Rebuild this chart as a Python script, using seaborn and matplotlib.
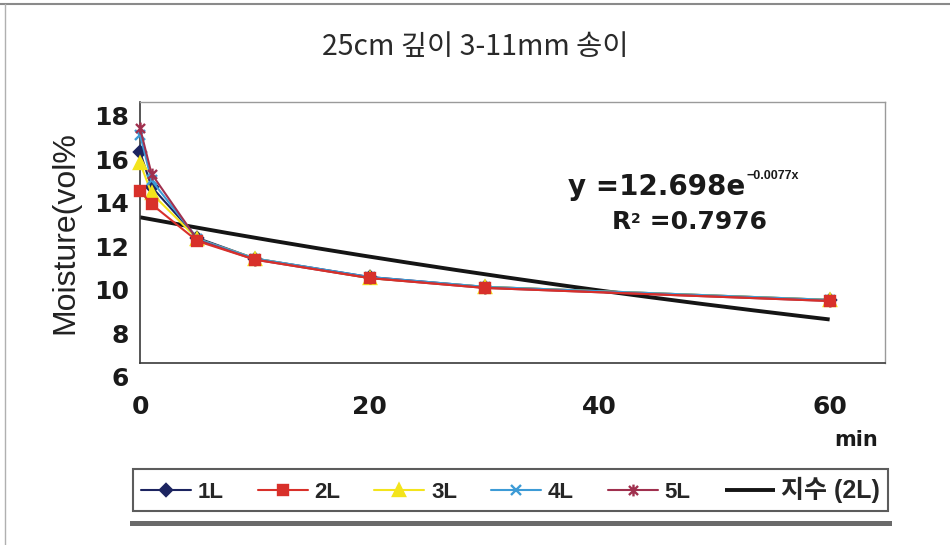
import numpy as np
import pandas as pd
import matplotlib
matplotlib.use("Agg")
import matplotlib.pyplot as plt
import matplotlib.transforms as mtransforms
from matplotlib.path import Path
from matplotlib.font_manager import FontProperties
import seaborn as sns

# Measured soil moisture (vol%) after irrigation, by elapsed minutes
minutes = [0, 1, 5, 10, 20, 30, 60]
moisture_1L = [15.7, 14.1, 11.75, 10.8, 9.95, 9.5, 8.9]
moisture_2L = [13.9, 13.3, 11.6, 10.75, 9.9, 9.45, 8.85]
moisture_3L = [15.2, 13.8, 11.7, 10.8, 9.9, 9.5, 8.9]
moisture_4L = [16.5, 14.4, 11.7, 10.8, 9.95, 9.5, 8.9]
moisture_5L = [16.8, 14.7, 11.65, 10.75, 9.9, 9.45, 8.85]
series_names = ["1L", "2L", "3L", "4L", "5L"]

# Exponential trend fitted to 2L
trend_coef = 12.698
trend_rate = -0.0077
trend_r2 = 0.7976
trend_label = "지수 (2L)"

y_ticks = [6, 8, 10, 12, 14, 16, 18]
x_ticks = [0, 20, 40, 60]

title_text = "25cm 깊이 3-11mm 송이"
y_label = "Moisture(vol%"
x_label = "min"

sns.set_style("white")
plt.rcParams["font.family"] = ["Liberation Sans", "Noto Sans CJK KR"]

frame = pd.DataFrame({
    "min": minutes * 5,
    "moisture": moisture_1L + moisture_2L + moisture_3L + moisture_4L + moisture_5L,
    "series": [n for n in series_names for _ in minutes],
})

# Excel-style asterisk: an x with a vertical stroke
asterisk = Path(
    [(-1, -1), (1, 1), (-1, 1), (1, -1), (0, -1.3), (0, 1.3)],
    [Path.MOVETO, Path.LINETO, Path.MOVETO, Path.LINETO, Path.MOVETO, Path.LINETO],
)

styles = {
    "1L": dict(color="#1c2460", marker="D", ms=6, mfc="#1c2460", z=3),
    "2L": dict(color="#d8302a", marker="s", ms=7.5, mfc="#d8302a", z=7),
    "3L": dict(color="#f3e41c", marker="^", ms=8, mfc="#f3e41c", z=4),
    "4L": dict(color="#3d9bd6", marker="x", ms=7.5, mfc="none", z=5),
    "5L": dict(color="#a0304e", marker=asterisk, ms=8.5, mfc="none", z=6),
}

fig = plt.figure(figsize=(9.5, 5.45), dpi=100)
ax = fig.add_axes([0.1474, 0.334, 0.784, 0.4789])

# Trend curve from the fitted equation
x_fit = np.linspace(0, 60, 200)
ax.plot(x_fit, trend_coef * np.exp(trend_rate * x_fit), color="#151515",
        lw=2.8, label=trend_label, zorder=2, solid_capstyle="butt")

for name in series_names:
    st = styles[name]
    sub = frame[frame["series"] == name]
    sns.lineplot(data=sub, x="min", y="moisture", ax=ax, color=st["color"],
                 marker=st["marker"], markersize=st["ms"],
                 markerfacecolor=st["mfc"], markeredgecolor=st["color"],
                 markeredgewidth=1.7, lw=1.5, label=name, zorder=st["z"],
                 clip_on=False)

if ax.get_legend() is not None:
    ax.get_legend().remove()

bold_wide = FontProperties(family="DejaVu Sans", weight="bold", size=18)

ax.set_xlim(0, 64.8)
ax.set_ylim(6, 18)
ax.set_xticks(x_ticks)
ax.set_yticks(y_ticks)
ax.set_xticklabels([str(t) for t in x_ticks])
ax.set_yticklabels([str(t) for t in y_ticks])
ax.tick_params(axis="both", direction="in", length=6, width=1, color="#333333")
ax.tick_params(axis="x", pad=23)
ax.tick_params(axis="y", pad=8)
for lab in ax.get_xticklabels() + ax.get_yticklabels():
    lab.set_fontproperties(bold_wide)
    lab.set_color("#1a1a1a")

for side in ["left", "bottom"]:
    ax.spines[side].set_color("#3a3a3a")
    ax.spines[side].set_linewidth(1.2)
for side in ["top", "right"]:
    ax.spines[side].set_color("#9a9a9a")
    ax.spines[side].set_linewidth(1.0)

ax.set_xlabel("")
ax.set_ylabel("")
ax.text(0.962, -0.295, x_label, transform=ax.transAxes, ha="center", va="center",
        fontsize=15, fontweight="bold", family="DejaVu Sans", color="#1a1a1a")
fig.text(0.069, 0.574, y_label, rotation=90, ha="center", va="center",
         fontsize=23, color="#222222", family="Liberation Sans")
fig.text(0.5, 0.913, title_text, ha="center", va="center", fontsize=20.5,
         color="#2a2a2a", family=["Noto Sans CJK KR", "DejaVu Sans"])

# Trend equation with small superscripts
eq_main = ax.text(0.5745, 0.675, f"y ={trend_coef:.3f}e", transform=ax.transAxes,
                  ha="left", va="center", fontsize=20, fontweight="bold",
                  family="DejaVu Sans", color="#1a1a1a")
ax.annotate(f"\u2212{abs(trend_rate):.4f}x", xy=(1, 1), xycoords=eq_main,
            xytext=(1, -2), textcoords="offset points", ha="left", va="center",
            fontsize=9, fontweight="bold", family="Liberation Sans",
            color="#1a1a1a")

r_main = ax.text(0.6336, 0.54, "R", transform=ax.transAxes, ha="left", va="center",
                 fontproperties=bold_wide, color="#1a1a1a")
r_sup = ax.annotate("2", xy=(1, 0.92), xycoords=r_main, xytext=(0, 0),
                    textcoords="offset points", ha="left", va="top",
                    fontsize=10, fontweight="bold", family="DejaVu Sans",
                    color="#1a1a1a")
ax.annotate(f" ={trend_r2:.4f}", xy=(1, 0), xycoords=(r_sup, r_main),
            ha="left", va="bottom", fontproperties=bold_wide, color="#1a1a1a")

handles, labels = ax.get_legend_handles_labels()
order = series_names + [trend_label]
hmap = dict(zip(labels, handles))
leg_prop = FontProperties(family=["Liberation Sans", "Noto Sans CJK KR"],
                          weight="bold", size=16)
leg = fig.legend([hmap[k] for k in order], order, loc="center",
                 bbox_to_anchor=(133 / 950, 1 - 512 / 545, 755 / 950, 44 / 545),
                 mode="expand", ncol=6, frameon=True,
                 fancybox=False, edgecolor="#333333", prop=leg_prop,
                 handlelength=2.25, columnspacing=1.0, handletextpad=0.3,
                 borderpad=0.35, borderaxespad=0)
leg.get_frame().set_linewidth(1.5)
leg.get_texts()[-1].set_fontsize(18)

# Shaded rule beneath the legend and the outer chart frame
fig.add_artist(plt.Rectangle((130 / 950, 1 - 526 / 545), 762 / 950, 5 / 545,
                             transform=fig.transFigure, color="#6a6a6a", lw=0))
fig.add_artist(plt.Line2D([0, 1], [1 - 4 / 545, 1 - 4 / 545],
                          transform=fig.transFigure, color="#8a8a8a", lw=1.5))
fig.add_artist(plt.Line2D([5 / 950, 5 / 950], [0, 1 - 4 / 545],
                          transform=fig.transFigure, color="#b0b0b0", lw=1.0))

# Shift y tick labels down slightly
offset = mtransforms.ScaledTranslation(0, -14 / 100, fig.dpi_scale_trans)
for lab in ax.get_yticklabels():
    lab.set_transform(lab.get_transform() + offset)

fig.savefig("out.png", dpi=100)
